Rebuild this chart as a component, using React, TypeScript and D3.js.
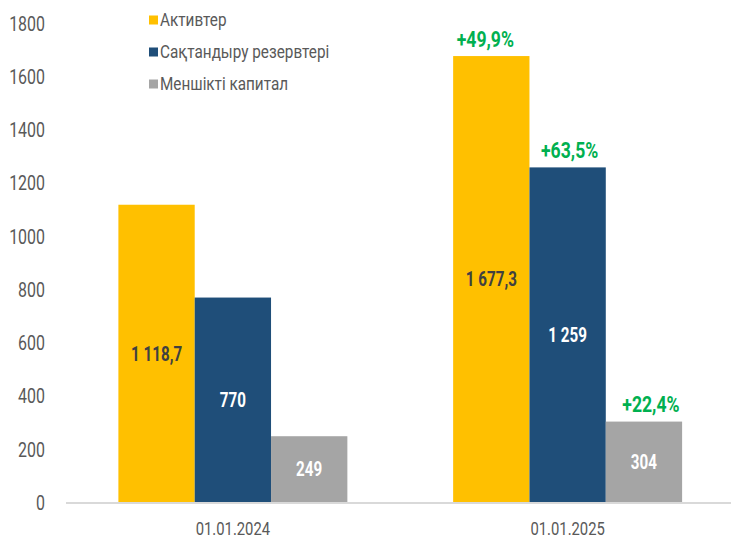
import { useEffect, useRef } from "react";
import * as d3 from "d3";

const dates = ["01.01.2024", "01.01.2025"];
const seriesNames = ["Активтер", "Сақтандыру резервтері", "Меншікті капитал"];
const assets = [1118.7, 1677.3];
const reserves = [770, 1259];
const equity = [249, 304];
const valueLabels = [
  ["1 118,7", "770", "249"],
  ["1 677,3", "1 259", "304"],
];
const growthLabels = ["+49,9%", "+63,5%", "+22,4%"];
const yTicks = [0, 200, 400, 600, 800, 1000, 1200, 1400, 1600, 1800];

const colors = ["#FFC000", "#1F4E79", "#A5A5A5"];
const labelColors = ["#404040", "#ffffff", "#ffffff"];
const growthShift = [-6, 2, 7];
const font = "Roboto, 'Liberation Sans', sans-serif";

// condensed look: squeeze text horizontally around its anchor
const addText = (
  parent: d3.Selection<any, any, any, any>,
  x: number,
  y: number,
  txt: string,
  opts: { size: number; anchor?: string; weight?: string; fill: string; sx?: number }
) => {
  parent.append("g")
    .attr("transform", `translate(${x},${y}) scale(${opts.sx ?? 0.78},1)`)
    .append("text")
    .attr("dy", "0.35em")
    .attr("text-anchor", opts.anchor ?? "middle")
    .attr("font-family", font)
    .attr("font-weight", opts.weight ?? "normal")
    .attr("font-size", opts.size)
    .attr("fill", opts.fill)
    .text(txt);
};

const App = () => {
  const svgRef = useRef<SVGSVGElement>(null);

  useEffect(() => {
    const width = 731;
    const height = 539;
    const svg = d3.select(svgRef.current);
    svg.selectAll("*").remove();
    svg.attr("width", width).attr("height", height).attr("viewBox", [0, 0, width, height]);

    const values = [assets, reserves, equity];

    const x0 = d3.scaleBand().domain(dates).range([65.5, 735]).padding(0);
    const groupW = x0.bandwidth() * 0.684;
    const x1 = d3.scaleBand()
      .domain(seriesNames)
      .range([(x0.bandwidth() - groupW) / 2, (x0.bandwidth() + groupW) / 2])
      .padding(0);
    const y = d3.scaleLinear().domain([0, 1800]).range([502.5, 23.4]);

    // y tick labels
    const yg = svg.append("g");
    yTicks.forEach((t) => {
      addText(yg, 45, y(t), String(t), { size: 21, anchor: "end", fill: "#595959", sx: 0.76 });
    });

    // bars
    dates.forEach((date, i) => {
      const g = svg.append("g").attr("transform", `translate(${x0(date)},0)`);
      seriesNames.forEach((s, j) => {
        const v = values[j][i];
        const cx = x1(s)! + x1.bandwidth() / 2;
        g.append("rect")
          .attr("x", x1(s)!)
          .attr("y", y(v))
          .attr("width", x1.bandwidth())
          .attr("height", y(0) - y(v))
          .attr("fill", colors[j]);
        addText(g, cx, (y(v) + y(0)) / 2, valueLabels[i][j], {
          size: 20, weight: "bold", fill: labelColors[j], sx: 0.76,
        });
        if (i === 1) {
          addText(g, cx + growthShift[j], y(v) - 17, growthLabels[j], {
            size: 22, weight: "bold", fill: "#00B050", sx: 0.8,
          });
        }
      });
    });

    // x axis line
    svg.append("line")
      .attr("x1", 66)
      .attr("x2", width)
      .attr("y1", y(0) + 0.5)
      .attr("y2", y(0) + 0.5)
      .attr("stroke", "#D9D9D9")
      .attr("stroke-width", 2);

    const xg = svg.append("g");
    dates.forEach((d) => {
      addText(xg, x0(d)! + x0.bandwidth() / 2, 528, d, { size: 19, fill: "#595959", sx: 0.78 });
    });

    // legend
    const lg = svg.append("g");
    seriesNames.forEach((s, i) => {
      const ly = 20 + i * 32;
      lg.append("rect")
        .attr("x", 149)
        .attr("y", ly - 4.5)
        .attr("width", 9)
        .attr("height", 9)
        .attr("fill", colors[i]);
      addText(lg, 160, ly, s, { size: 18, anchor: "start", fill: "#595959", sx: 0.85 });
    });
  }, []);

  return (
    <div style={{ position: "absolute", left: 0, top: 0, width: 731, height: 539, background: "#fff" }}>
      <svg ref={svgRef}></svg>
    </div>
  );
};

export default App;
